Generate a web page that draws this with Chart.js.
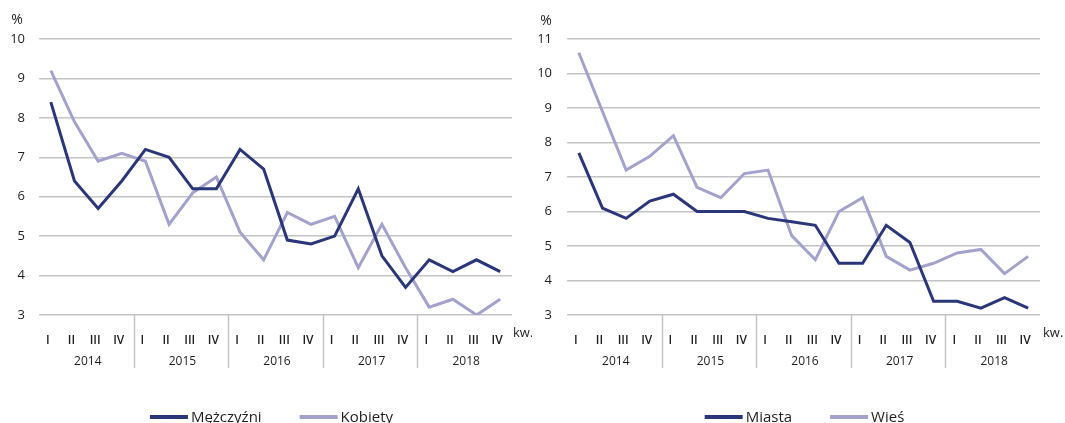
<!DOCTYPE html>
<html>
<head>
<meta charset="utf-8">
<script src="https://cdn.jsdelivr.net/npm/chart.js@4.4.1/dist/chart.umd.min.js"></script>
<style>
  html, body { margin: 0; padding: 0; background: #ffffff; }
  #wrap { position: relative; width: 1065px; height: 423px; overflow: hidden; }
  #c1 { position: absolute; left: 0; top: 0; }
  #c2 { position: absolute; left: 532px; top: 0; }
</style>
</head>
<body>
<div id="wrap">
  <canvas id="c1" width="532" height="423"></canvas>
  <canvas id="c2" width="533" height="423"></canvas>
</div>
<script>
// ---- data ----
const quarters = ['I','II','III','IV','I','II','III','IV','I','II','III','IV','I','II','III','IV','I','II','III','IV'];
const years = ['2014', '2015', '2016', '2017', '2018'];
const menLabel = 'Mężczyźni';
const womenLabel = 'Kobiety';
const cityLabel = 'Miasta';
const ruralLabel = 'Wieś';
const menValues   = [8.4, 6.4, 5.7, 6.4, 7.2, 7.0, 6.2, 6.2, 7.2, 6.7, 4.9, 4.8, 5.0, 6.2, 4.5, 3.7, 4.4, 4.1, 4.4, 4.1];
const womenValues = [9.2, 7.9, 6.9, 7.1, 6.9, 5.3, 6.1, 6.5, 5.1, 4.4, 5.6, 5.3, 5.5, 4.2, 5.3, 4.2, 3.2, 3.4, 3.0, 3.4];
const cityValues  = [7.7, 6.1, 5.8, 6.3, 6.5, 6.0, 6.0, 6.0, 5.8, 5.7, 5.6, 4.5, 4.5, 5.6, 5.1, 3.4, 3.4, 3.2, 3.5, 3.2];
const ruralValues = [10.6, 8.9, 7.2, 7.6, 8.2, 6.7, 6.4, 7.1, 7.2, 5.3, 4.6, 6.0, 6.4, 4.7, 4.3, 4.5, 4.8, 4.9, 4.2, 4.7];
const leftYMin = 3, leftYMax = 10;
const rightYMin = 3, rightYMax = 11;
const unitLabel = '%';
const quarterUnit = 'kw.';

// ---- style ----
const DARK = '#2a3678';
const LIGHT = '#a3a2cc';
const GRID = '#c4c4c4';
const TEXT = '#1e1e1e';
const FONT = "'Open Sans', 'Noto Sans', 'DejaVu Sans', sans-serif";

const decor = {
  id: 'decor',
  afterDraw(chart, args, o) {
    const { ctx, chartArea } = chart;
    const x = chart.scales.x;
    ctx.save();
    // year separators
    ctx.strokeStyle = GRID;
    ctx.lineWidth = 1.5;
    for (let k = 1; k < years.length; k++) {
      const px = Math.round((x.getPixelForValue(4 * k - 1) + x.getPixelForValue(4 * k)) / 2) + 0.5;
      ctx.beginPath();
      ctx.moveTo(px, chartArea.bottom);
      ctx.lineTo(px, 368);
      ctx.stroke();
    }
    // year labels
    ctx.fillStyle = TEXT;
    ctx.font = '12px ' + FONT;
    ctx.textAlign = 'center';
    ctx.textBaseline = 'middle';
    years.forEach((y, k) => {
      const c = (x.getPixelForValue(4 * k) + x.getPixelForValue(4 * k + 3)) / 2 + 1.5;
      ctx.fillText(y, c, 362);
    });
    // kw.
    ctx.font = '13px ' + FONT;
    ctx.textAlign = 'left';
    ctx.fillText(quarterUnit, chartArea.right + o.kwDx, 333);
    // %
    ctx.font = '14px ' + FONT;
    ctx.textAlign = 'center';
    ctx.fillText(unitLabel, o.pctX, o.pctY);
    // legend
    ctx.font = '15px ' + FONT;
    const boxW = 38, gapT = 3, gapItem = 38;
    const items = chart.data.datasets.map(d => ({ label: d.label, color: d.borderColor, w: boxW + gapT + ctx.measureText(d.label).width }));
    const total = items.reduce((s, it) => s + it.w, 0) + gapItem * (items.length - 1);
    let lx = (chartArea.left + chartArea.right) / 2 - total / 2 + o.legendDx;
    const ly = 417;
    items.forEach(it => {
      ctx.fillStyle = it.color;
      ctx.fillRect(lx, ly - 2, boxW, 4);
      ctx.fillStyle = TEXT;
      ctx.textAlign = 'left';
      ctx.fillText(it.label, lx + boxW + gapT, ly + 1);
      lx += it.w + gapItem;
    });
    ctx.restore();
  }
};

function makeChart(id, labelA, valsA, labelB, valsB, yMin, yMax, yWidth, padRight, tickPad, pctX, pctY, kwDx, legendDx) {
  return new Chart(document.getElementById(id), {
    type: 'line',
    data: {
      labels: quarters,
      datasets: [
        { label: labelA, data: valsA, borderColor: DARK, backgroundColor: DARK, borderWidth: 3, pointRadius: 0, tension: 0, borderJoinStyle: 'miter' },
        { label: labelB, data: valsB, borderColor: LIGHT, backgroundColor: LIGHT, borderWidth: 3, pointRadius: 0, tension: 0, borderJoinStyle: 'miter' }
      ]
    },
    options: {
      responsive: false,
      devicePixelRatio: 1,
      animation: false,
      events: [],
      layout: { padding: { top: 39, right: padRight, bottom: 0, left: 0 } },
      plugins: {
        legend: { display: false },
        tooltip: { enabled: false },
        decor: { pctX, pctY, kwDx, legendDx }
      },
      scales: {
        x: {
          type: 'category',
          offset: true,
          grid: { display: false },
          border: { display: false },
          ticks: { color: TEXT, font: { family: FONT, size: 12, weight: '600' }, padding: 10, labelOffset: -3, maxRotation: 0, autoSkip: false },
          afterFit(s) { s.height = 108; }
        },
        y: {
          min: yMin, max: yMax,
          grid: { color: GRID, lineWidth: 1.5, drawTicks: false },
          border: { display: false },
          ticks: { stepSize: 1, color: TEXT, font: { family: FONT, size: 13 }, padding: tickPad },
          afterFit(s) { s.width = yWidth; }
        }
      }
    },
    plugins: [decor]
  });
}

makeChart('c1', menLabel, menValues, womenLabel, womenValues, leftYMin, leftYMax, 39, 20, 14, 17, 20, 1, -4);
makeChart('c2', cityLabel, cityValues, ruralLabel, ruralValues, rightYMin, rightYMax, 35, 25, 15, 14, 21, 3, 1);
</script>
</body>
</html>
